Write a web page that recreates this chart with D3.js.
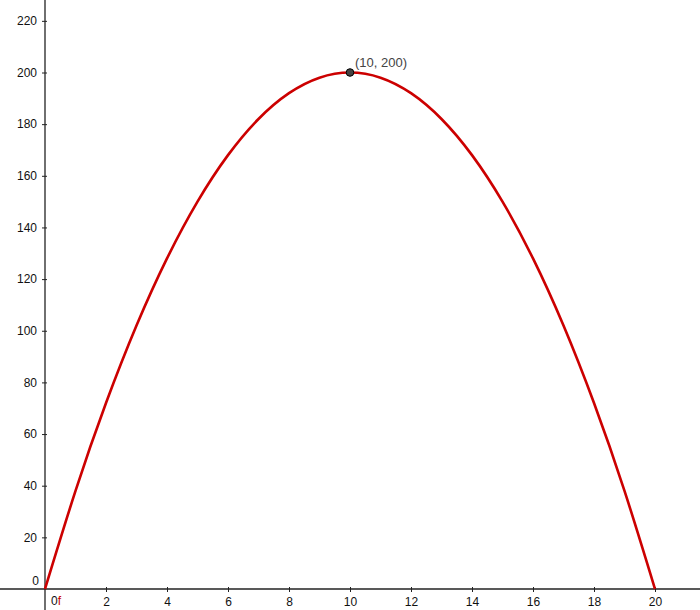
<!DOCTYPE html>
<html>
<head>
<meta charset="utf-8">
<script src="https://cdn.jsdelivr.net/npm/d3@7"></script>
<style>
  body { margin: 0; background: #fff; }
  svg text { font-family: "Liberation Sans", Arial, sans-serif; }
</style>
</head>
<body>
<div id="chart"></div>
<script>
// points
var xs = [0, 1, 2, 3, 4, 5, 6, 7, 8, 9, 10, 11, 12, 13, 14, 15, 16, 17, 18, 19, 20]
var ys = [0, 38, 72, 102, 128, 150, 168, 182, 192, 198, 200, 198, 192, 182, 168, 150, 128, 102, 72, 38, 0]
var xTicks = [2, 4, 6, 8, 10, 12, 14, 16, 18, 20]
var yTicks = [20, 40, 60, 80, 100, 120, 140, 160, 180, 200, 220]
var vertex = [10, 200]

var width = 700, height = 610

var svg = d3.select("#chart").append("svg")
    .attr("width", width)
    .attr("height", height)

var x = d3.scaleLinear().domain([0, 20]).range([45, 655])
var y = d3.scaleLinear().domain([0, 200]).range([589, 72.5])

// axes lines across whole view
svg.append("line")
    .attr("x1", 0).attr("x2", width)
    .attr("y1", y(0)).attr("y2", y(0))
    .attr("stroke", "#222").attr("stroke-width", 1.3)
svg.append("line")
    .attr("x1", x(0)).attr("x2", x(0))
    .attr("y1", 0).attr("y2", height)
    .attr("stroke", "#222").attr("stroke-width", 1.3)

var axisX = d3.axisBottom(x).tickValues(xTicks).tickSize(3).tickPadding(5).tickFormat(d3.format("d"))
var gx = svg.append("g").attr("transform", "translate(0," + y(0) + ")").call(axisX)
gx.select(".domain").remove()
gx.selectAll(".tick line").attr("y1", -2).attr("stroke", "#222")
gx.selectAll("text").attr("font-size", 12).attr("fill", "#111").attr("font-family", "Liberation Sans, Arial, sans-serif")

var axisY = d3.axisLeft(y).tickValues(yTicks).tickSize(3).tickPadding(5).tickFormat(d3.format("d"))
var gy = svg.append("g").attr("transform", "translate(" + x(0) + ",0)").call(axisY)
gy.select(".domain").remove()
gy.selectAll(".tick line").attr("x1", 2).attr("stroke", "#222")
gy.selectAll("text").attr("font-size", 12).attr("fill", "#111").attr("font-family", "Liberation Sans, Arial, sans-serif")

// origin labels
svg.append("text").attr("x", x(0) - 6).attr("y", y(0) - 4)
    .attr("text-anchor", "end").attr("font-size", 12).attr("fill", "#111").text("0")
var lab = svg.append("text").attr("x", x(0) + 6).attr("y", y(0) + 16)
    .attr("font-size", 12)
lab.append("tspan").attr("fill", "#111").text("0")
lab.append("tspan").attr("fill", "#cc0000").text("f")

// curve
var data = xs.map((d, i) => [d, ys[i]])
var line = d3.line().x(d => x(d[0])).y(d => y(d[1])).curve(d3.curveNatural)
svg.append("path")
    .datum(data)
    .attr("d", line)
    .attr("fill", "none")
    .attr("stroke", "#cc0000")
    .attr("stroke-width", 2.6)

// vertex point
svg.append("circle")
    .attr("cx", x(vertex[0])).attr("cy", y(vertex[1]))
    .attr("r", 3.8)
    .attr("fill", "#444").attr("stroke", "#000").attr("stroke-width", 1)
svg.append("text")
    .attr("x", x(vertex[0]) + 5).attr("y", y(vertex[1]) - 6)
    .attr("font-size", 13).attr("fill", "#444")
    .text("(" + vertex[0] + ", " + vertex[1] + ")")
</script>
</body>
</html>
